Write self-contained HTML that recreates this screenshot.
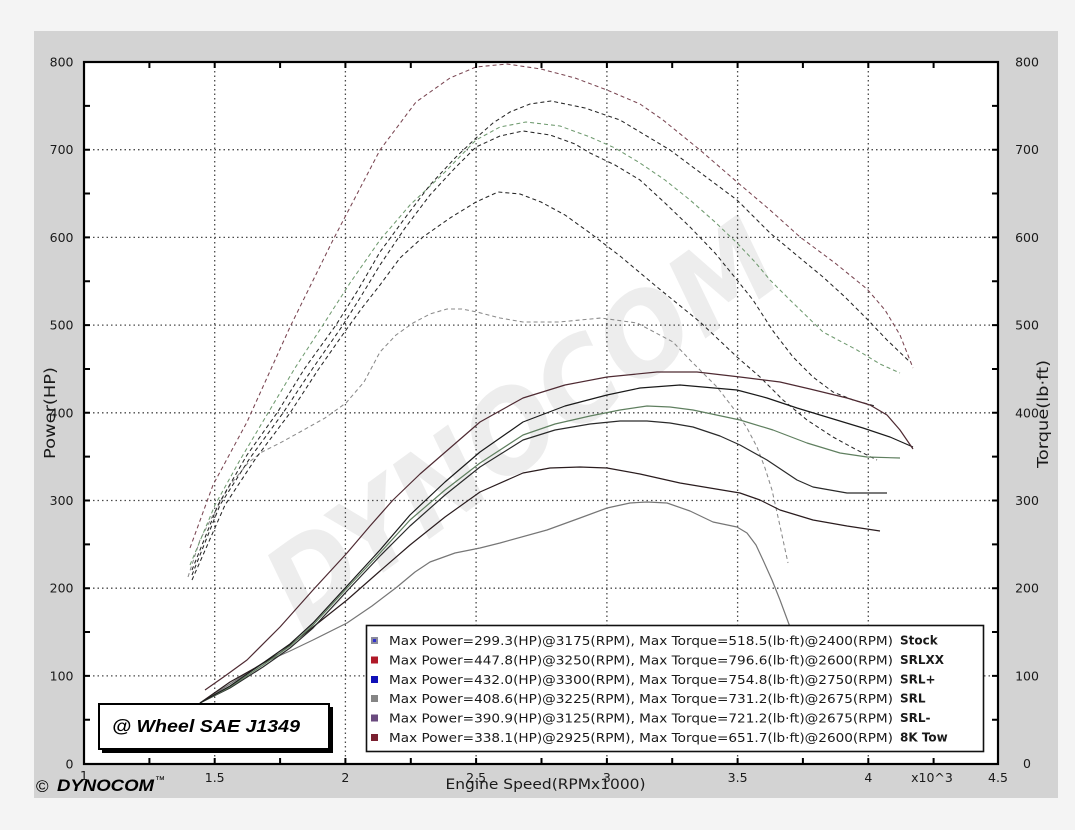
<!DOCTYPE html>
<html><head><meta charset="utf-8"><style>
html,body{margin:0;padding:0;background:#f4f4f4;}
svg{display:block;}
text{font-family:"DejaVu Sans","Liberation Sans",sans-serif;fill:#1a1a1a;}
</style></head><body>
<svg width="1075" height="830" viewBox="0 0 1075 830" xmlns="http://www.w3.org/2000/svg">
<rect x="0" y="0" width="1075" height="830" fill="#f4f4f4"/>
<rect x="34" y="31" width="1024" height="767" fill="#d3d3d3"/>
<rect x="84" y="62" width="914" height="702" fill="#ffffff"/>

<!-- watermark -->
<text x="0" y="0" transform="translate(545,455) rotate(-36)" text-anchor="middle" font-family="Liberation Sans, sans-serif" font-weight="bold" font-style="italic" font-size="112" textLength="600" lengthAdjust="spacingAndGlyphs" style="fill:#ededed">DYNOCOM</text>

<!-- gridlines -->
<g stroke="#4a4a4a" stroke-width="1.3" stroke-dasharray="1.5 3" fill="none">
<path d="M214.7 62V764M345.4 62V764M476.1 62V764M606.9 62V764M737.6 62V764M868.3 62V764"/>
<path d="M84 675.9H998M84 588.2H998M84 500.5H998M84 412.8H998M84 325.1H998M84 237.4H998M84 149.7H998"/>
</g>

<!-- torque (dashed) -->
<g fill="none" stroke-width="1.05" stroke-dasharray="4 3" stroke-linejoin="round">
<polyline stroke="#8a8a8a" points="188,577 200,540 213,515 230,485 248,463 262,452 280,443 300,432 325,418 346,403 364,382 380,352 396,335 413,323 430,314 447,309 462,309 477,312 500,318 523,322 559,322 601,318 637,323 656,333 673,342 690,360 705,375 717,387 737,413 747,428 757,447 765,468 772,490 780,526 788,563"/>
<polyline stroke="#262626" points="192,580 225,505 256,458 290,413 318,370 346,330 362,308 380,285 400,258 423,237 450,218 476,202 498,192 520,194 541,202 565,215 590,233 620,256 657,287 700,322 737,357 760,377 783,400 807,420 833,437 855,449 877,460"/>
<polyline stroke="#262626" points="192,575 220,505 250,458 283,413 313,368 343,325 360,298 380,265 405,228 430,195 455,168 476,147 500,136 523,131 550,135 575,144 590,153 615,165 640,180 665,203 690,227 715,253 737,280 753,300 773,331 793,357 813,377 833,392 853,400 875,406"/>
<polyline stroke="#6f9a6f" points="190,565 215,505 240,460 268,413 295,368 323,325 350,283 380,240 410,205 445,172 476,140 500,127 526,122 560,126 590,137 615,148 640,163 665,180 690,200 715,222 737,243 755,262 770,280 790,300 823,332 857,350 880,364 900,373"/>
<polyline stroke="#262626" points="192,570 218,505 247,455 277,413 305,368 336,325 358,290 380,252 405,218 430,185 455,158 476,138 493,123 510,112 530,104 551,101 585,108 620,120 670,150 737,200 770,233 800,258 823,277 845,297 867,319 887,340 910,362"/>
<polyline stroke="#7a4652" points="190,548 213,485 247,422 290,327 333,240 380,150 416,102 450,78 476,67 507,64 541,69 575,78 607,90 640,104 663,120 700,150 737,182 770,210 800,237 835,263 867,289 885,310 900,335 913,368"/>
</g>

<!-- power (solid) -->
<g fill="none" stroke-width="1.2" stroke-linejoin="round">
<polyline stroke="#767676" points="200,703 230,684 263,663 290,651 313,640 347,623 372,606 397,587 415,572 430,562 455,553 480,548 500,543 547,530 580,518 607,508 630,503 647,502 667,503 690,511 713,522 737,527 747,533 756,545 763,560 772,580 780,600 790,627 800,655"/>
<polyline stroke="#2a1c1e" points="200,703 230,682 255,668 280,653 313,627 347,600 380,571 410,545 445,517 480,492 523,473 550,468 580,467 607,468 640,474 680,483 710,488 740,493 760,500 780,510 813,520 847,526 880,531"/>
<polyline stroke="#2a2a2a" points="200,703 230,688 263,667 290,648 313,628 347,591 380,556 410,526 445,495 480,467 523,440 555,430 590,424 620,421 647,421 670,423 693,427 720,436 740,445 767,460 797,480 813,487 847,493 887,493"/>
<polyline stroke="#5f7f5f" points="200,703 230,687 263,665 290,646 313,625 347,588 380,553 410,520 445,490 480,463 523,435 555,424 590,416 620,410 647,406 670,407 693,410 740,420 773,430 807,443 840,453 867,457 900,458"/>
<polyline stroke="#1a1a1a" points="200,703 230,686 263,663 290,644 313,623 347,586 380,550 410,515 445,482 480,452 523,422 565,406 607,395 640,388 680,385 737,390 767,398 797,408 830,418 863,428 890,437 913,447"/>
<polyline stroke="#4e2a32" points="205,690 225,676 247,660 280,627 313,590 347,553 370,526 393,500 420,474 450,448 480,422 523,398 565,385 607,377 657,372 697,372 740,377 780,382 810,389 847,398 870,405 887,415 900,430 913,449"/>
</g>

<!-- legend -->
<rect x="366.5" y="625.5" width="617" height="126" fill="#ffffff" stroke="#111" stroke-width="1.6"/>
<rect x="371" y="637" width="7" height="7" fill="#8a8a9c"/>
<rect x="373" y="639" width="3" height="3" fill="#3030d0"/>
<rect x="371" y="656.5" width="7" height="7" fill="#b01828"/>
<rect x="371" y="676" width="7" height="7" fill="#1010b8"/>
<rect x="371" y="695" width="7" height="7" fill="#858585"/>
<rect x="371" y="714.5" width="7" height="7" fill="#6a4a7e"/>
<rect x="371" y="734" width="7" height="7" fill="#7a2030"/>
<g font-size="12.5">
<text x="389" y="645" textLength="504" lengthAdjust="spacingAndGlyphs">Max Power=299.3(HP)@3175(RPM), Max Torque=518.5(lb·ft)@2400(RPM)</text>
<text x="389" y="664.5" textLength="504" lengthAdjust="spacingAndGlyphs">Max Power=447.8(HP)@3250(RPM), Max Torque=796.6(lb·ft)@2600(RPM)</text>
<text x="389" y="684" textLength="504" lengthAdjust="spacingAndGlyphs">Max Power=432.0(HP)@3300(RPM), Max Torque=754.8(lb·ft)@2750(RPM)</text>
<text x="389" y="703" textLength="504" lengthAdjust="spacingAndGlyphs">Max Power=408.6(HP)@3225(RPM), Max Torque=731.2(lb·ft)@2675(RPM)</text>
<text x="389" y="722.5" textLength="504" lengthAdjust="spacingAndGlyphs">Max Power=390.9(HP)@3125(RPM), Max Torque=721.2(lb·ft)@2675(RPM)</text>
<text x="389" y="742" textLength="504" lengthAdjust="spacingAndGlyphs">Max Power=338.1(HP)@2925(RPM), Max Torque=651.7(lb·ft)@2600(RPM)</text>
</g>
<g font-family="Liberation Sans, sans-serif" font-weight="bold" font-size="12" style="font-family:'Liberation Sans',sans-serif">
<text x="900" y="644.5">Stock</text>
<text x="900" y="664">SRLXX</text>
<text x="900" y="683.5">SRL+</text>
<text x="900" y="702.5">SRL</text>
<text x="900" y="722">SRL-</text>
<text x="900" y="741.5">8K Tow</text>
</g>

<!-- wheel box -->
<rect x="102" y="707" width="231" height="46" fill="#000"/>
<rect x="99" y="704" width="230" height="45" fill="#fff" stroke="#000" stroke-width="2"/>
<text x="112" y="732" font-size="17.5" font-weight="bold" font-style="italic" textLength="188" lengthAdjust="spacingAndGlyphs" style="font-family:'Liberation Sans',sans-serif;fill:#000">@ Wheel SAE J1349</text>

<!-- frame -->
<rect x="84" y="62" width="914" height="702" fill="none" stroke="#000" stroke-width="2.2"/>
<g stroke="#000" stroke-width="2" fill="none">
<path d="M149.4 62v6M214.7 62v6M280.1 62v6M345.4 62v6M410.8 62v6M476.1 62v6M541.5 62v6M606.9 62v6M672.2 62v6M737.6 62v6M802.9 62v6M868.3 62v6M933.6 62v6"/>
<path d="M149.4 764v-6M214.7 764v-6M280.1 764v-6M345.4 764v-6M410.8 764v-6M476.1 764v-6M541.5 764v-6M606.9 764v-6M672.2 764v-6M737.6 764v-6M802.9 764v-6M868.3 764v-6M933.6 764v-6"/>
<path d="M84 719.75h6M84 675.9h6M84 632.05h6M84 588.2h6M84 544.35h6M84 500.5h6M84 456.65h6M84 412.8h6M84 368.95h6M84 325.1h6M84 281.25h6M84 237.4h6M84 193.55h6M84 149.7h6M84 105.85h6"/>
<path d="M998 719.75h-6M998 675.9h-6M998 632.05h-6M998 588.2h-6M998 544.35h-6M998 500.5h-6M998 456.65h-6M998 412.8h-6M998 368.95h-6M998 325.1h-6M998 281.25h-6M998 237.4h-6M998 193.55h-6M998 149.7h-6M998 105.85h-6"/>
</g>

<!-- left labels -->
<g font-size="12.5" text-anchor="end">
<text x="73.5" y="66.5">800</text>
<text x="73.5" y="154.2">700</text>
<text x="73.5" y="241.9">600</text>
<text x="73.5" y="329.6">500</text>
<text x="73.5" y="417.3">400</text>
<text x="73.5" y="505">300</text>
<text x="73.5" y="592.7">200</text>
<text x="73.5" y="680.4">100</text>
<text x="73.5" y="768.5">0</text>
</g>
<!-- right labels -->
<g font-size="12.5" text-anchor="middle">
<text x="1027" y="66.5">800</text>
<text x="1027" y="154.2">700</text>
<text x="1027" y="241.9">600</text>
<text x="1027" y="329.6">500</text>
<text x="1027" y="417.3">400</text>
<text x="1027" y="505">300</text>
<text x="1027" y="592.7">200</text>
<text x="1027" y="680.4">100</text>
<text x="1027" y="768">0</text>
</g>
<!-- x labels -->
<g font-size="12.5" text-anchor="middle">
<text x="84" y="780">1</text>
<text x="214.7" y="782">1.5</text>
<text x="345.4" y="782">2</text>
<text x="476.1" y="782">2.5</text>
<text x="606.9" y="782">3</text>
<text x="737.6" y="782">3.5</text>
<text x="868.3" y="782">4</text>
<text x="932" y="782">x10^3</text>
<text x="998" y="782">4.5</text>
</g>

<text x="545.5" y="789" font-size="14.5" text-anchor="middle" textLength="200" lengthAdjust="spacingAndGlyphs">Engine Speed(RPMx1000)</text>
<text transform="translate(55,413) rotate(-90)" font-size="15" text-anchor="middle" textLength="92" lengthAdjust="spacingAndGlyphs">Power(HP)</text>
<text transform="translate(1048,414) rotate(-90)" font-size="15" text-anchor="middle" textLength="108" lengthAdjust="spacingAndGlyphs">Torque(lb·ft)</text>

<!-- copyright -->
<text x="36" y="792" font-size="17" style="font-family:'Liberation Sans',sans-serif;fill:#000">©</text>
<text x="57" y="791" font-size="17" font-weight="bold" font-style="italic" textLength="97" lengthAdjust="spacingAndGlyphs" style="font-family:'Liberation Sans',sans-serif;fill:#000">DYNOCOM</text>
<text x="155" y="783" font-size="10" style="font-family:'Liberation Sans',sans-serif;fill:#000">™</text>
</svg>
</body></html>
